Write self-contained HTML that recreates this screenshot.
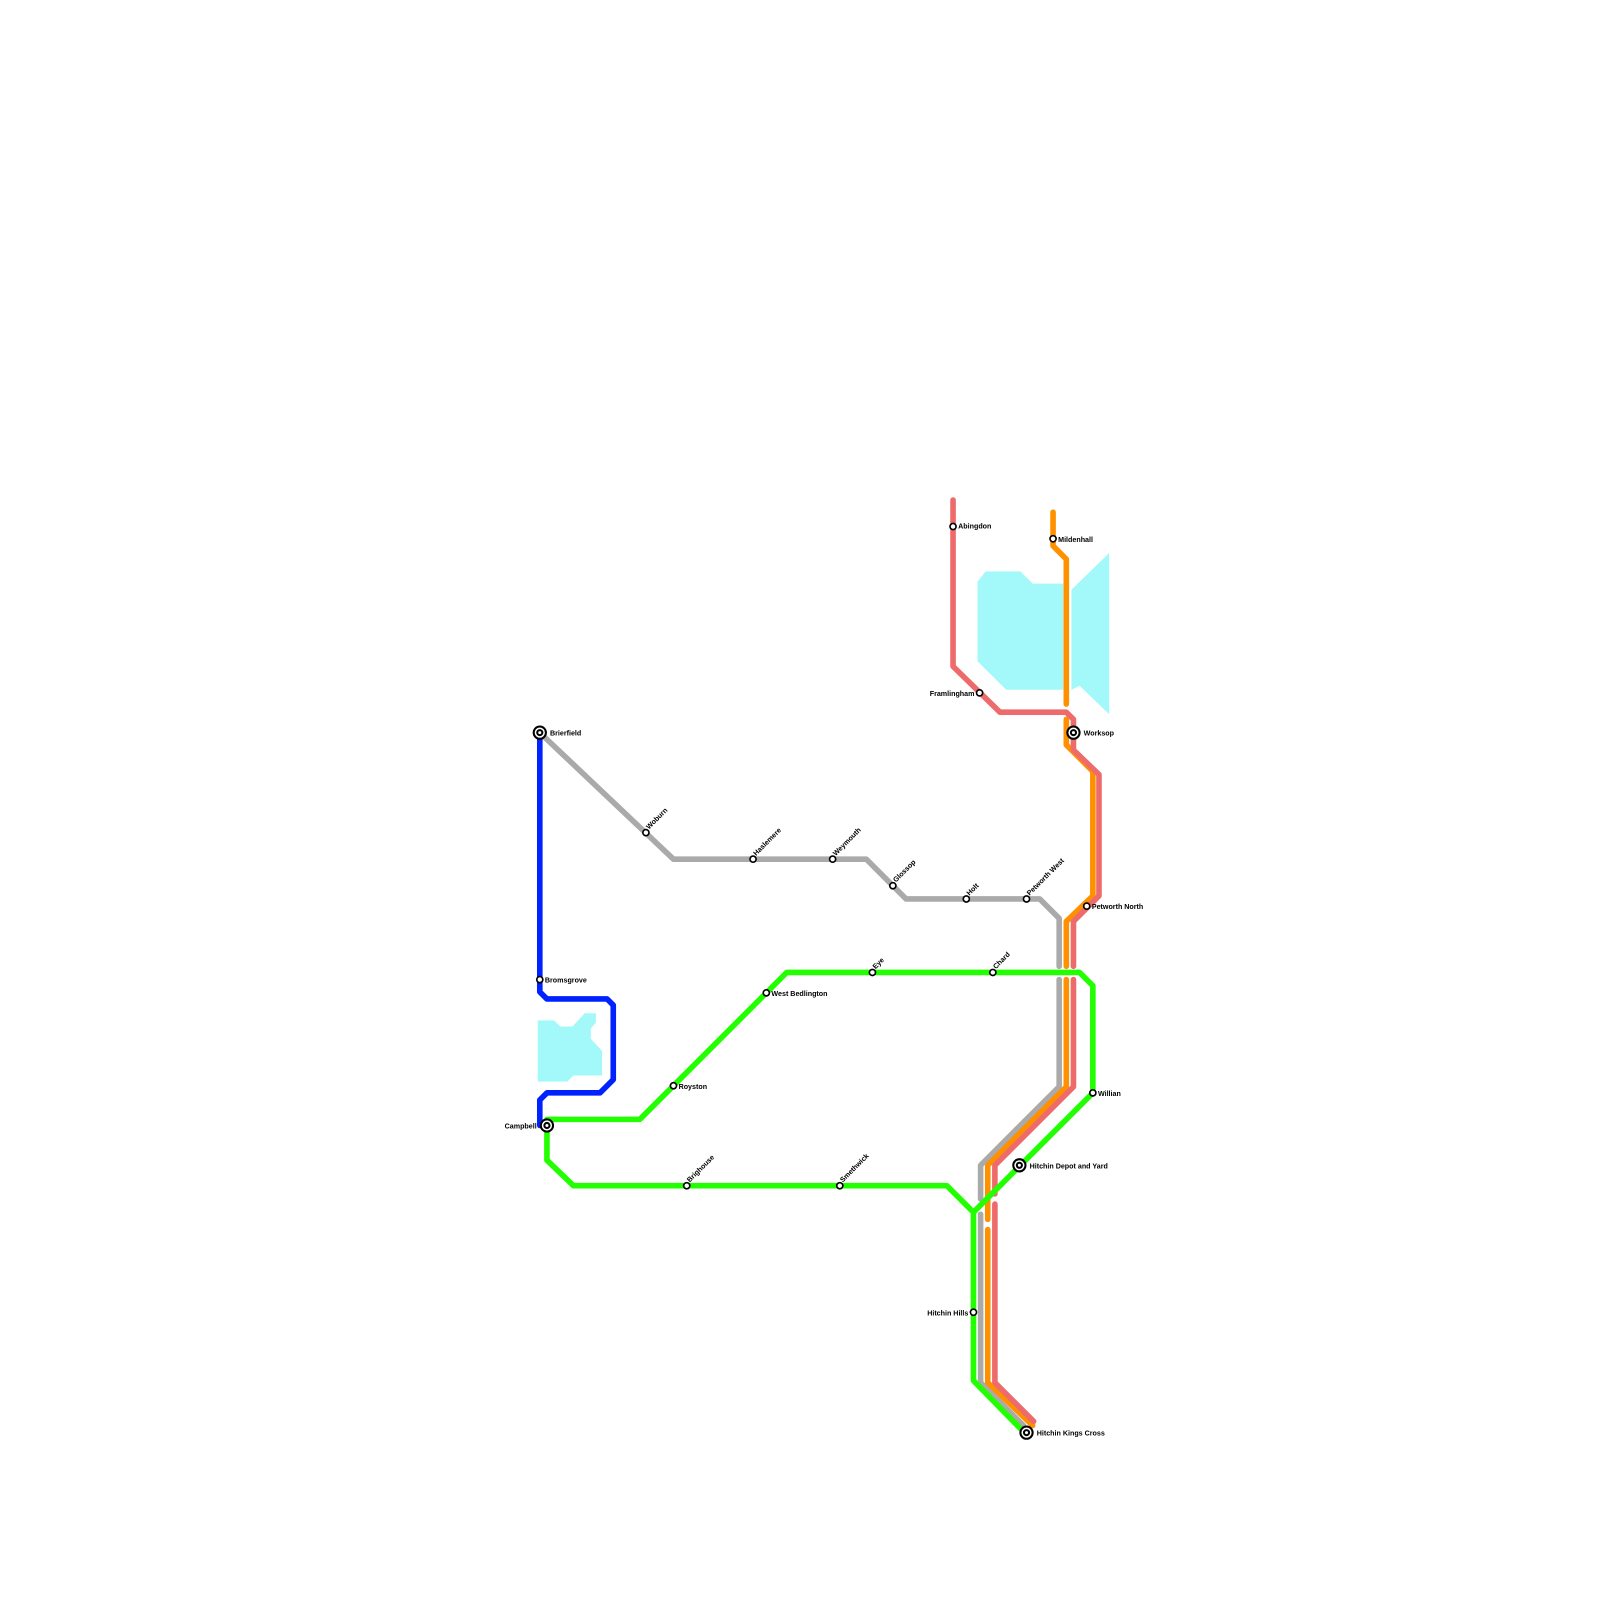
<!DOCTYPE html>
<html><head><meta charset="utf-8"><style>html,body{margin:0;padding:0;background:#fff}svg{display:block}text{font-family:"Liberation Sans",sans-serif;font-weight:bold;font-size:7px;fill:#000}</style></head><body>
<svg width="1600" height="1600" viewBox="0 0 1600 1600" xmlns="http://www.w3.org/2000/svg">
<g transform="scale(1.0204)">
<g fill="#a3f9f9">
<polygon points="958,570 966,560 1000,560 1012,572 1042,572 1042,676 986,676 958,648"/>
<polygon points="1050,578 1087,542 1087,700 1058,672 1050,676"/>
<polygon points="527,1000 543,1000 549,1006 561,1006 573,993 584,993 584,1002 579,1008 579,1018 590,1030 590,1054 562,1054 556,1060 527,1060"/>
</g>
<g fill="none" stroke-width="5.5" stroke-linejoin="round" stroke-linecap="round">
<polyline stroke="#aaaaaa" points="529,718 660,842 849,842 888,881 1019,881 1038,900 1038,947"/>
<polyline stroke="#aaaaaa" points="1038,960 1038,1065 961,1142 961,1175"/>
<polyline stroke="#aaaaaa" points="961,1190 961,1355 1003,1397"/>
<polyline stroke="#ff9100" points="1032,502 1032,535 1045,548 1045,690"/>
<polyline stroke="#ff9100" points="1045,705 1045,730 1071,756 1071,878 1045,903 1045,947"/>
<polyline stroke="#ff9100" points="1045,960 1045,1065 968,1142 968,1195"/>
<polyline stroke="#ff9100" points="968,1205 968,1355 1012,1397"/>
<polyline stroke="#ee6b6b" points="934,490 934,653 980,698 1045,698 1052,705 1052,735 1077,759 1077,878 1052,903 1052,947"/>
<polyline stroke="#ee6b6b" points="1052,960 1052,1065 975,1142 975,1170"/>
<polyline stroke="#ee6b6b" points="975,1180 975,1355 1013,1393"/>
<polyline stroke="#0022ff" points="529,718 529,972 536,979 595,979 601,985 601,1058 588,1071 536,1071 529,1078 529,1103"/>
<polyline stroke="#22ff00" points="536,1103 536,1097 627,1097 771,953 1058,953 1071,966 1071,1071 998,1144 955,1187"/>
<polyline stroke="#22ff00" points="536,1103 536,1137 562,1162 928,1162 954,1188 954,1353 1000,1400"/>
</g>
<g fill="#fff" stroke="#000" stroke-width="1.6">
<circle cx="633" cy="816" r="3"/><circle cx="738" cy="842" r="3"/><circle cx="816" cy="842" r="3"/>
<circle cx="875" cy="868" r="3"/><circle cx="947" cy="881" r="3"/><circle cx="1006" cy="881" r="3"/>
<circle cx="934" cy="516" r="3"/><circle cx="1032" cy="528" r="3"/><circle cx="960" cy="679" r="3"/>
<circle cx="1065" cy="888" r="3"/><circle cx="529" cy="960" r="3"/><circle cx="751" cy="973" r="3"/>
<circle cx="855" cy="953" r="3"/><circle cx="973" cy="953" r="3"/><circle cx="660" cy="1064" r="3"/>
<circle cx="1071" cy="1071" r="3"/><circle cx="673" cy="1162" r="3"/><circle cx="823" cy="1162" r="3"/>
<circle cx="954" cy="1286" r="3"/>
</g>
<g fill="#fff" stroke="#000" stroke-width="2">
<circle cx="529" cy="718" r="6"/><circle cx="529" cy="718" r="2.5"/>
<circle cx="1052" cy="718" r="6"/><circle cx="1052" cy="718" r="2.5"/>
<circle cx="536" cy="1103" r="6"/><circle cx="536" cy="1103" r="2.5"/>
<circle cx="999" cy="1142" r="6"/><circle cx="999" cy="1142" r="2.5"/>
<circle cx="1006" cy="1404" r="6"/><circle cx="1006" cy="1404" r="2.5"/>
</g>
<text x="539" y="721">Brierfield</text>
<text x="939" y="518">Abingdon</text>
<text x="1037" y="531">Mildenhall</text>
<text x="955" y="682" text-anchor="end">Framlingham</text>
<text x="1062" y="721">Worksop</text>
<text x="1070" y="891">Petworth North</text>
<text x="534" y="963">Bromsgrove</text>
<text x="756" y="976">West Bedlington</text>
<text x="665" y="1067">Royston</text>
<text x="526" y="1106" text-anchor="end">Campbell</text>
<text x="1076" y="1074">Willian</text>
<text x="1009" y="1145">Hitchin Depot and Yard</text>
<text x="949" y="1289" text-anchor="end">Hitchin Hills</text>
<text x="1016" y="1407">Hitchin Kings Cross</text>
<g>
<text transform="translate(636,813) rotate(-45)">Woburn</text>
<text transform="translate(741,839) rotate(-45)">Haslemere</text>
<text transform="translate(819,839) rotate(-45)">Weymouth</text>
<text transform="translate(878,865) rotate(-45)">Glossop</text>
<text transform="translate(950,878) rotate(-45)">Holt</text>
<text transform="translate(1009,878) rotate(-45)">Petworth West</text>
<text transform="translate(858,950) rotate(-45)">Eye</text>
<text transform="translate(976,950) rotate(-45)">Chard</text>
<text transform="translate(676,1159) rotate(-45)">Brighouse</text>
<text transform="translate(826,1159) rotate(-45)">Smethwick</text>
</g>
</g>
</svg>
</body></html>
